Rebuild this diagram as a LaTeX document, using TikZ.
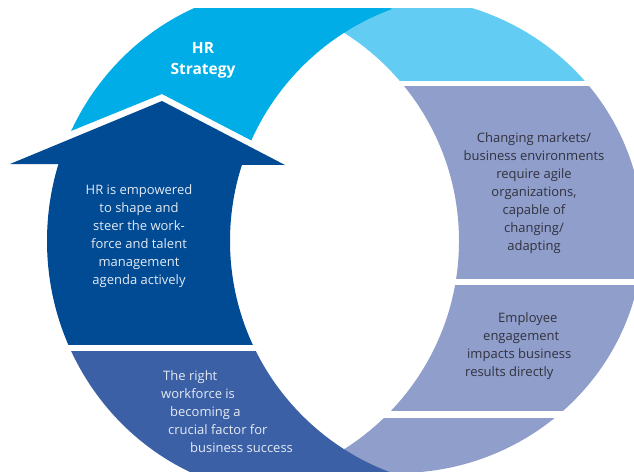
\documentclass[tikz,border=0pt]{standalone}
\usepackage{fontspec}
\setmainfont{Open Sans}
\definecolor{hrcyan}{RGB}{0,173,230}
\definecolor{lightcyan}{RGB}{99,204,243}
\definecolor{arrowblue}{RGB}{0,75,147}
\definecolor{botblue}{RGB}{59,96,166}
\definecolor{lilac}{RGB}{143,158,203}
\definecolor{darktext}{RGB}{50,50,62}
\definecolor{lighttext}{RGB}{228,234,244}
% right ring piece between two heights: inside outer ellipse, outside inner circle
\newcommand\ringseg[3]{%
  \begin{scope}
    \clip (-10,#2) rectangle (650,#3);
    \clip (398,235) ellipse [x radius=245pt, y radius=238pt];
    \fill[#1, even odd rule] (-20,-20) rectangle (660,500) (213,241) circle [radius=246pt];
  \end{scope}}
% left ring piece between two heights
\newcommand\leftseg[3]{%
  \begin{scope}
    \clip (-10,#2) rectangle (650,#3);
    \clip (292,241) ellipse [x radius=245pt, y radius=254pt];
    \fill[#1, even odd rule] (-20,-20) rectangle (660,500) (477,241) circle [radius=247pt];
  \end{scope}}
\begin{document}
\begin{tikzpicture}[x=1pt,y=-1pt,
  lab/.style={font=\fontsize{13}{18}\selectfont, inner sep=0pt},
  darklab/.style={lab, text=darktext},
  lightlab/.style={lab, text=lighttext},
  titlelab/.style={font=\fontsize{15.5}{21}\selectfont\bfseries, text=white, inner sep=0pt, align=center}]
\useasboundingbox (0,0) rectangle (634,471);
\begin{scope}
  \clip (0,8) rectangle (634,471);
  % right ring
  \ringseg{lightcyan}{0}{80}
  \ringseg{lilac}{86}{278}
  \ringseg{lilac}{285}{410.5}
  \ringseg{lilac}{418}{480}
  % left ring: HR strategy band
  \begin{scope}
    \clip (-20,0) -- (660,0) -- (660,353) -- (162,94) -- (-20,168) -- cycle;
    \clip (292,241) ellipse [x radius=245pt, y radius=254pt];
    \fill[hrcyan, even odd rule] (-20,-20) rectangle (660,500) (477,241) circle [radius=247pt];
  \end{scope}
  % arrow
  \leftseg{arrowblue}{163.5}{344}
  \fill[arrowblue] (10,164) -- (162,101) -- (285,165) -- cycle;
  % bottom band
  \leftseg{botblue}{351}{480}
\end{scope}
\node[titlelab] (hr) at (203,60) {HR\\Strategy};
\node[lightlab, align=center] (emp) at (139,236) {HR is empowered\\to shape and\\steer the work-\\force and talent\\management\\agenda actively};
\node[darklab, align=center] (mkt) at (534,193) {Changing markets/\\business environments\\require agile\\organizations,\\capable of\\changing/\\adapting};
\node[darklab, align=left, anchor=west] (eng) at (465,346) {\hspace*{33pt}Employee\\\hspace*{18pt}engagement\\\hspace*{2pt}impacts business\\results directly};
\node[lightlab, align=left, anchor=west] (wf) at (161,412) {\hspace*{2pt}The right\\workforce is\\\hspace*{9pt}becoming a\\\hspace*{7pt}crucial factor for\\\hspace*{29pt}business success};
\end{tikzpicture}
\end{document}
